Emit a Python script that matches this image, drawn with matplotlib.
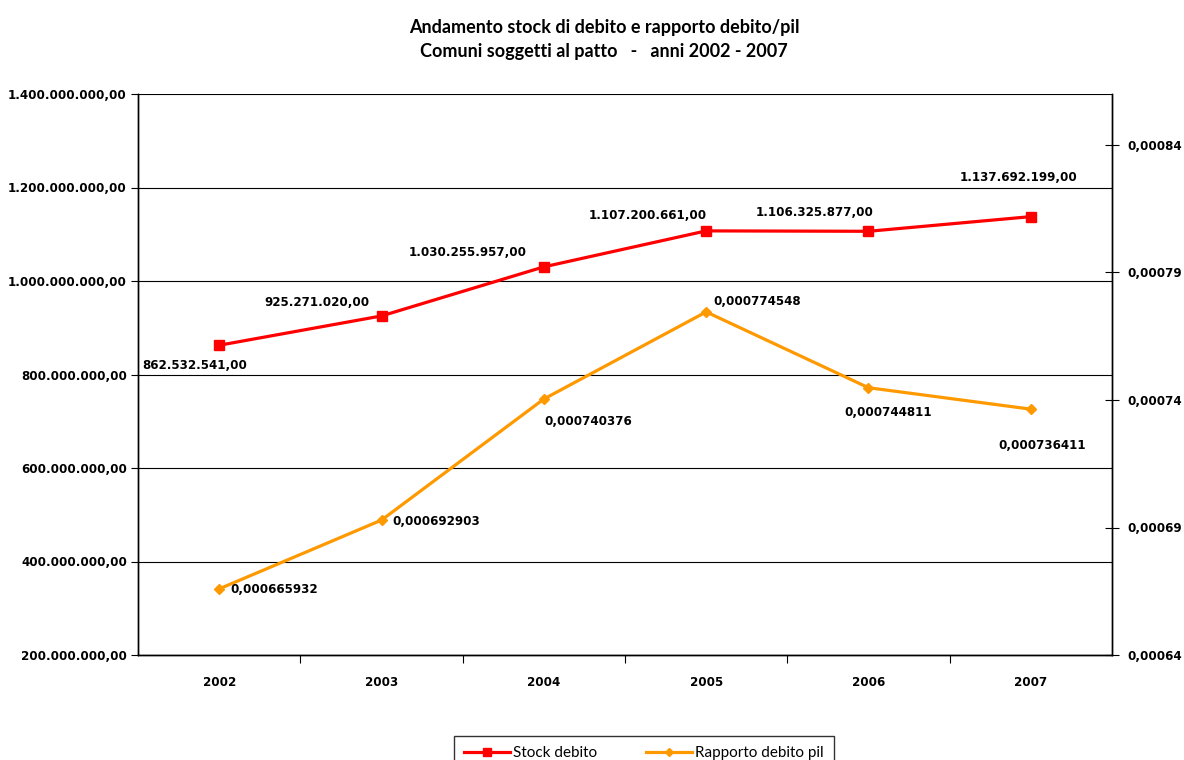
import matplotlib
matplotlib.use("Agg")
import matplotlib.pyplot as plt
from matplotlib.ticker import FuncFormatter, FixedLocator

years = ["2002", "2003", "2004", "2005", "2006", "2007"]
stock_debito = [862532541.00, 925271020.00, 1030255957.00, 1107200661.00, 1106325877.00, 1137692199.00]
rapporto_pil = [0.000665932, 0.000692903, 0.000740376, 0.000774548, 0.000744811, 0.000736411]
stock_labels = ["862.532.541,00", "925.271.020,00", "1.030.255.957,00", "1.107.200.661,00",
                "1.106.325.877,00", "1.137.692.199,00"]
rapporto_labels = ["0,000665932", "0,000692903", "0,000740376", "0,000774548", "0,000744811", "0,000736411"]
left_ticks = [200e6, 400e6, 600e6, 800e6, 1000e6, 1200e6, 1400e6]
right_ticks = [0.00064, 0.00069, 0.00074, 0.00079, 0.00084]

# label offsets in pixels (layout)
stock_off = [(-24, -20), (-65, 13), (-76, 14), (-58, 15), (-54, 19), (-12, 39)]
rap_off = [(55, -1), (55, -1), (44, -22), (51, 10), (20, -25), (11, -36)]

RED = "#FF0000"
ORANGE = "#FF9900"
FS = 8.6

fig = plt.figure(figsize=(11.84, 7.6), dpi=100)
ax = fig.add_axes([138/1184, 1-655/760, (1112-138)/1184, (655-94)/760])
ax2 = ax.twinx()

x = list(range(1, len(years) + 1))

l1, = ax.plot(x, stock_debito, color=RED, lw=2.3, marker="s", ms=7, zorder=3, label="Stock debito")
l2, = ax2.plot(x, rapporto_pil, color=ORANGE, lw=2.3, marker="D", ms=5.5, zorder=3, label="Rapporto debito pil")

ax.set_xlim(0.5, 6.5)
ax.set_ylim(200e6, 1400e6)
ax2.set_ylim(0.00064, 0.00086)

def it_fmt(v, pos):
    s = f"{v:,.2f}"
    return s.replace(",", "X").replace(".", ",").replace("X", ".")

ax.yaxis.set_major_locator(FixedLocator(left_ticks))
ax.yaxis.set_major_formatter(FuncFormatter(it_fmt))
ax2.yaxis.set_major_locator(FixedLocator(right_ticks))
ax2.yaxis.set_major_formatter(FuncFormatter(lambda v, p: f"{v:.5f}".replace(".", ",")))

ax.set_xticks(x)
ax.set_xticklabels(years)
ax.set_xticks([i + 0.5 for i in x[:-1]], minor=True)
ax.tick_params(axis="x", which="major", length=0, pad=15)
ax.tick_params(axis="x", which="minor", length=6, direction="out", width=0.8)
ax.tick_params(axis="y", length=5, direction="out", width=0.8, pad=3)
ax2.tick_params(axis="y", length=10, direction="inout", width=0.8, pad=6)

for lab in ax.get_xticklabels() + ax.get_yticklabels() + ax2.get_yticklabels():
    lab.set_fontfamily("DejaVu Sans")
    lab.set_fontweight("bold")
    lab.set_fontsize(FS)

ax.grid(axis="y", color="black", lw=0.8)
ax.set_axisbelow(True)
for a in (ax, ax2):
    a.spines["top"].set_visible(False)
    for s in ("left", "right", "bottom"):
        a.spines[s].set_linewidth(1.0)
        a.spines[s].set_color("black")

for xi, v, t, (dx, dy) in zip(x, stock_debito, stock_labels, stock_off):
    ax.annotate(t, (xi, v), xytext=(dx, dy), textcoords="offset pixels",
                ha="center", va="center", fontsize=FS, fontweight="bold", family="DejaVu Sans")
for xi, v, t, (dx, dy) in zip(x, rapporto_pil, rapporto_labels, rap_off):
    ax2.annotate(t, (xi, v), xytext=(dx, dy), textcoords="offset pixels",
                 ha="center", va="center", fontsize=FS, fontweight="bold", family="DejaVu Sans")

fig.text(604/1184, 1 - 27/760, "Andamento stock di debito e rapporto debito/pil",
         ha="center", va="center", fontsize=13.0, fontweight="bold", family="Lato")
fig.text(604/1184, 1 - 52/760, "Comuni soggetti al patto   -   anni 2002 - 2007",
         ha="center", va="center", fontsize=13.0, fontweight="bold", family="Lato")

leg = fig.legend([l1, l2], ["Stock debito", "Rapporto debito pil"], loc="upper center",
                 bbox_to_anchor=(644/1184, 1 - 736/760), ncol=2, frameon=True, fancybox=False,
                 prop={"family": "Lato", "size": 11}, handlelength=3.0, columnspacing=3.2,
                 borderpad=0.65, borderaxespad=0, handletextpad=0.2, markerscale=0.8)
leg.get_frame().set_edgecolor("black")
leg.get_frame().set_linewidth(1.0)

fig.savefig("out.png", dpi=100)
